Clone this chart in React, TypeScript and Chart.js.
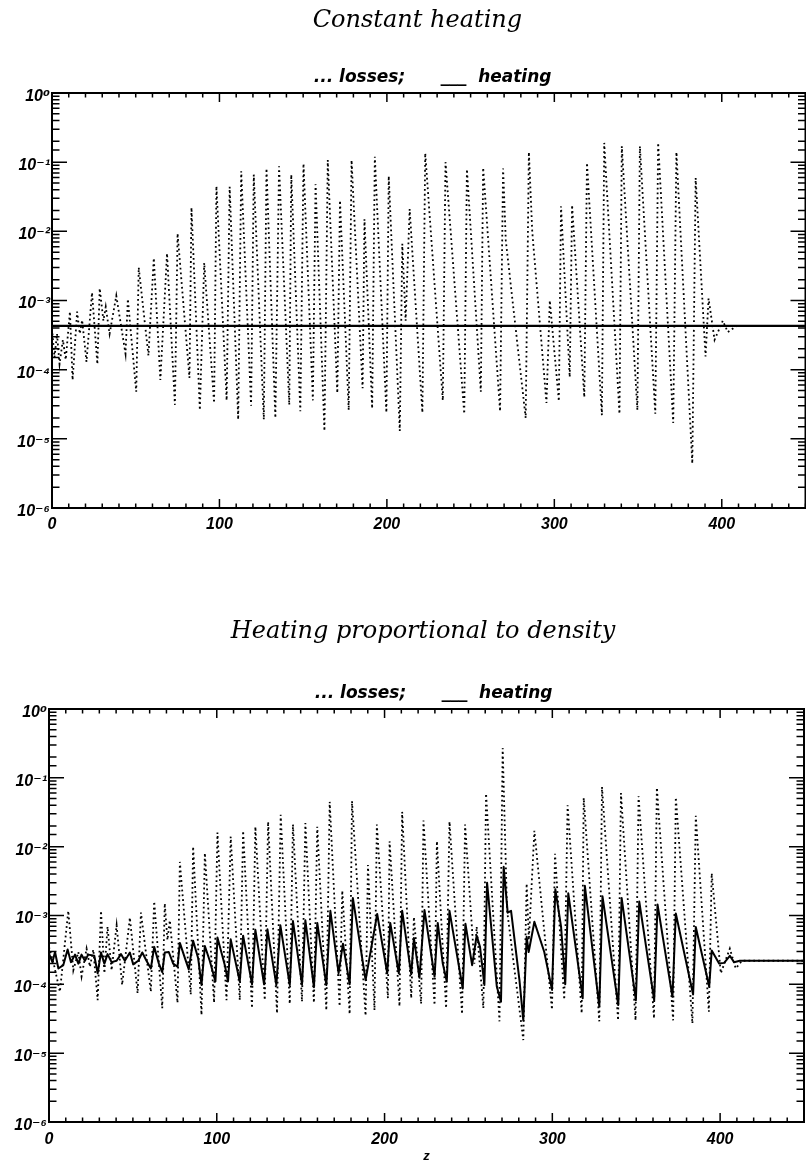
import { useEffect, useRef } from 'react';
import { Chart, registerables } from 'chart.js';

Chart.register(...registerables);

// ---------- data ----------
// Panel 1: constant heating
const topLossesZ = [
  0, 1.5, 3, 4.5, 6.5, 8.2, 10.7, 12.3, 15.0, 16.6, 18.0, 20.6, 23.9, 27.1, 28.5, 30.7, 32.1, 34.4,
  38.4, 43.9, 45.3, 50.3, 51.8, 57.6, 60.8, 64.7, 68.7, 73.4, 75.0, 82.1, 83.3, 88.3, 90.9, 96.8,
  98.2, 104.3, 106.1, 111.2, 113.0, 118.9, 120.5, 126.5, 128.1, 133.4, 135.6, 141.7, 142.9, 148.3,
  150.2, 155.8, 157.4, 162.7, 164.7, 170.4, 172.0, 177.2, 178.9, 185.5, 186.6, 191.2, 192.8, 199.7,
  201.1, 207.7, 209.2, 211.2, 213.6, 221.2, 222.9, 233.4, 235.0, 246.2, 247.8, 256.1, 257.5, 267.6,
  269.4, 271.0, 282.9, 284.8, 286.8, 295.3, 297.3, 302.7, 304.0, 309.2, 310.6, 317.9, 319.5, 328.4,
  329.8, 338.9, 340.3, 349.6, 351.1, 360.3, 362.0, 371.0, 372.9, 382.4, 384.4, 390.3, 392.1, 395.7,
  400.6, 403.6, 409.0, 450,
];
const topLossesV = [
  3.9e-4, 1.5e-4, 3.3e-4, 1.2e-4, 2.7e-4, 1.4e-4, 6.9e-4, 7.1e-5, 6.9e-4, 3.3e-4, 5.2e-4, 1.3e-4,
  1.3e-3, 1.2e-4, 1.5e-3, 5.1e-4, 8.1e-4, 3.3e-4, 1.17e-3, 1.7e-4, 1.05e-3, 4.8e-5, 3.0e-3, 1.6e-4,
  4.1e-3, 7.1e-5, 4.8e-3, 3.1e-5, 9.3e-3, 7.6e-5, 2.2e-2, 2.6e-5, 3.5e-3, 3.3e-5, 4.5e-2, 3.6e-5,
  4.4e-2, 1.9e-5, 7.4e-2, 3.0e-5, 6.6e-2, 1.9e-5, 8.1e-2, 2.0e-5, 8.7e-2, 3.1e-5, 6.6e-2, 2.5e-5,
  9.5e-2, 3.6e-5, 4.8e-2, 1.3e-5, 0.107, 4.6e-5, 2.8e-2, 2.6e-5, 0.107, 5.4e-5, 1.5e-2, 2.75e-5,
  0.12, 2.4e-5, 6.3e-2, 1.3e-5, 6.6e-3, 5.1e-4, 2.1e-2, 2.4e-5, 0.135, 3.6e-5, 0.10, 2.3e-5, 7.9e-2,
  4.8e-5, 8.3e-2, 2.5e-5, 8.1e-2, 7.4e-3, 2.0e-5, 0.14, 1.0e-2, 3.3e-5, 1.0e-3, 3.5e-5, 2.3e-2,
  7.8e-5, 2.4e-2, 4.0e-5, 9.8e-2, 2.2e-5, 0.19, 2.3e-5, 0.17, 2.6e-5, 0.17, 2.3e-5, 0.19, 1.7e-5,
  0.14, 4.4e-6, 5.9e-2, 1.55e-4, 1.07e-3, 2.7e-4, 5.1e-4, 3.5e-4, 4.3e-4, 4.3e-4,
];
const topHeatingZ = [0, 450];
const topHeatingV = [4.3e-4, 4.3e-4];

// Panel 2: heating proportional to density
const botLossesZ = [
  0, 3, 6.5, 11.5, 14.5, 17.5, 19.4, 22.4, 24.4, 26.4, 29.0, 31.0, 33.0, 34.9, 37.3, 40.3, 43.6, 48.2,
  52.8, 54.8, 60.7, 62.7, 67.5, 69.0, 70.6, 72.0, 76.6, 78.0, 84.5, 85.9, 90.9, 92.9, 98.4, 100.4,
  105.8, 108.3, 113.7, 115.7, 121.0, 123.0, 128.6, 130.6, 135.9, 138.1, 143.5, 145.4, 150.8, 152.8,
  157.9, 159.9, 165.3, 167.3, 173.2, 174.8, 179.2, 180.6, 188.7, 190.1, 194.0, 195.4, 202.0, 203.0,
  208.9, 210.5, 215.9, 217.5, 221.8, 223.2, 229.8, 231.2, 236.7, 238.7, 246.2, 248.0, 253.5, 254.9,
  258.9, 260.5, 268.5, 270.4, 273.0, 282.7, 284.7, 286.0, 289.3, 299.8, 301.6, 307.1, 309.1, 317.5,
  318.7, 328.0, 329.6, 339.2, 340.9, 349.6, 351.4, 360.6, 362.3, 372.0, 373.6, 383.5, 385.5, 393.3,
  395.0, 400.4, 405.8, 409.3, 413, 450,
];
const botLossesV = [
  3.5e-4, 1.9e-4, 7.8e-5, 1.17e-3, 1.6e-4, 2.95e-4, 1.3e-4, 3.3e-4, 1.8e-4, 3.2e-4, 5.9e-5, 1.17e-3,
  1.45e-4, 6.9e-4, 1.6e-4, 7.2e-4, 9.8e-5, 9.3e-4, 7.4e-5, 1.1e-3, 7.8e-5, 1.6e-3, 4.5e-5, 1.5e-3,
  4.4e-4, 8.5e-4, 5.4e-5, 6.0e-3, 7.1e-5, 1.0e-2, 3.6e-5, 8.1e-3, 5.4e-5, 1.6e-2, 5.9e-5, 1.4e-2,
  5.9e-5, 1.7e-2, 4.5e-5, 1.95e-2, 5.9e-5, 2.3e-2, 3.8e-5, 2.9e-2, 5.2e-5, 2.1e-2, 5.6e-5, 2.2e-2,
  5.4e-5, 1.95e-2, 4.2e-5, 4.5e-2, 4.8e-5, 2.3e-3, 3.7e-5, 4.6e-2, 3.5e-5, 5.4e-3, 4.2e-5, 2.1e-2,
  6.3e-5, 1.2e-2, 4.8e-5, 3.2e-2, 6.3e-5, 9.5e-4, 5.2e-5, 2.4e-2, 5.0e-5, 1.2e-2, 4.5e-5, 2.3e-2,
  3.7e-5, 2.1e-2, 2.0e-4, 6.9e-4, 4.5e-5, 5.9e-2, 2.9e-5, 0.27, 1.2e-3, 1.55e-5, 2.9e-3, 4.4e-4,
  1.7e-2, 4.3e-5, 7.9e-3, 6.0e-5, 4.0e-2, 3.8e-5, 5.1e-2, 2.9e-5, 7.4e-2, 3.0e-5, 6.0e-2, 3.0e-5,
  5.4e-2, 3.2e-5, 7.2e-2, 3.0e-5, 5.2e-2, 2.7e-5, 2.8e-2, 4.0e-5, 4.1e-3, 1.45e-4, 3.3e-4, 1.7e-4,
  2.2e-4, 2.2e-4,
];
const botHeatingZ = [
  0, 2.0, 3.6, 5.6, 8.5, 11.1, 13.1, 15.5, 17.5, 19.4, 21.4, 23.4, 27.0, 29.0, 31.0, 33.0, 34.9, 37.3,
  40.3, 42.9, 45.2, 48.2, 50.2, 53.2, 55.6, 58.1, 60.7, 62.7, 65.5, 67.5, 69.0, 71.4, 74.0, 76.6,
  78.0, 81.0, 83.3, 85.9, 88.9, 90.9, 92.9, 95.8, 99.2, 100.4, 104.8, 106.7, 108.3, 113.7, 115.7,
  121.0, 123.0, 128.2, 130.2, 135.5, 137.9, 143.5, 145.4, 150.8, 152.8, 157.9, 159.9, 165.3, 167.7,
  172.6, 175.2, 179.2, 181.1, 188.7, 195.6, 201.6, 203.4, 208.5, 210.5, 215.9, 217.5, 220.8, 223.8,
  229.8, 231.7, 234.7, 237.1, 238.7, 246.6, 248.2, 252.2, 254.9, 256.9, 259.5, 261.1, 266.9, 269.4,
  271.0, 273.4, 275.4, 280.4, 282.7, 284.7, 285.9, 289.3, 295.2, 299.8, 301.8, 305.2, 307.7, 309.5,
  318.1, 319.4, 328.0, 329.9, 339.3, 341.3, 349.8, 351.8, 360.7, 362.7, 371.6, 373.6, 383.9, 385.5,
  393.5, 395.0, 399.4, 402.4, 405.8, 408.3, 411.7, 450,
];
const botHeatingV = [
  2.8e-4, 2.1e-4, 2.95e-4, 1.7e-4, 1.9e-4, 3.2e-4, 2.1e-4, 2.7e-4, 2.0e-4, 2.7e-4, 2.2e-4, 2.7e-4,
  2.6e-4, 1.45e-4, 2.9e-4, 2.0e-4, 2.75e-4, 2.1e-4, 2.2e-4, 2.75e-4, 2.2e-4, 2.9e-4, 1.95e-4, 2.2e-4,
  2.9e-4, 2.2e-4, 1.7e-4, 3.5e-4, 2.0e-4, 1.5e-4, 2.9e-4, 2.95e-4, 2.0e-4, 1.8e-4, 4.0e-4, 2.4e-4,
  1.65e-4, 4.3e-4, 2.4e-4, 9.8e-5, 3.6e-4, 2.2e-4, 1.1e-4, 4.8e-4, 1.9e-4, 1.1e-4, 4.5e-4, 1.1e-4,
  5.1e-4, 1.0e-4, 6.2e-4, 1.0e-4, 6.3e-4, 9.8e-5, 7.2e-4, 9.8e-5, 8.3e-4, 1.0e-4, 8.5e-4, 9.1e-5,
  7.8e-4, 9.8e-5, 1.17e-3, 1.45e-4, 3.9e-4, 1.0e-4, 1.8e-3, 1.15e-4, 1.05e-3, 1.45e-4, 7.8e-4,
  1.45e-4, 1.17e-3, 1.4e-4, 4.7e-4, 1.25e-4, 1.2e-3, 1.3e-4, 7.8e-4, 2.0e-4, 1.1e-4, 1.17e-3, 8.7e-5,
  7.6e-4, 1.9e-4, 5.1e-4, 3.5e-4, 9.8e-5, 3.0e-3, 9.3e-5, 5.6e-5, 5.1e-3, 1.1e-3, 1.17e-3, 1.15e-4,
  3.0e-5, 4.9e-4, 2.95e-4, 8.1e-4, 2.95e-4, 8.3e-5, 2.4e-3, 6.9e-4, 1.0e-4, 2.1e-3, 6.3e-5, 2.7e-3,
  4.8e-5, 1.9e-3, 5.0e-5, 1.8e-3, 5.9e-5, 1.6e-3, 5.9e-5, 1.45e-3, 6.6e-5, 1.07e-3, 7.1e-5, 6.8e-4,
  9.3e-5, 3.1e-4, 2.0e-4, 2.05e-4, 2.6e-4, 2.1e-4, 2.2e-4, 2.2e-4,
];

// axis ticks
const xTickValues = [0, 100, 200, 300, 400];
const xTickLabels = ['0', '100', '200', '300', '400'];
const yTickValues = [1, 1e-1, 1e-2, 1e-3, 1e-4, 1e-5, 1e-6];
const yTickLabels = ['10⁰', '10⁻¹', '10⁻²', '10⁻³', '10⁻⁴', '10⁻⁵', '10⁻⁶'];

// text
const topTitle = 'Constant heating';
const botTitle = 'Heating proportional to density';
const legendText = '... losses;      ___  heating';
const xAxisTitle = 'z';

// ---------- helpers ----------
const TITLE_FONT = "'DejaVu Serif', serif";
const LEGEND_FONT = "'DejaVu Sans', sans-serif";
const TICK_FONT = "'Liberation Sans', 'DejaVu Sans', sans-serif";

const toPts = (zs: number[], vs: number[]) => zs.map((z, i) => ({ x: z, y: vs[i] }));
const lead = (s: string, n: number) => ' '.repeat(n) + s;

const isDecade = (v: number) => {
  const l = Math.log10(v);
  return Math.abs(l - Math.round(l)) < 1e-6;
};

const frameTicks = {
  id: 'frameTicks',
  afterDraw(chart: any) {
    const { ctx, chartArea } = chart;
    const { left, right, top, bottom } = chartArea;
    const xs = chart.scales.x;
    const ys = chart.scales.y;
    ctx.save();
    ctx.strokeStyle = '#000';
    ctx.lineWidth = 1.5;
    ctx.beginPath();
    for (const t of ys.ticks) {
      const p = ys.getPixelForValue(t.value);
      const len = isDecade(t.value) ? 15 : 7.5;
      ctx.moveTo(left, p);
      ctx.lineTo(left + len, p);
      ctx.moveTo(right, p);
      ctx.lineTo(right - len, p);
    }
    for (const t of xs.ticks) {
      const p = xs.getPixelForValue(t.value);
      const len = Math.round(t.value) % 100 === 0 ? 9 : 4.5;
      ctx.moveTo(p, bottom);
      ctx.lineTo(p, bottom - len);
      ctx.moveTo(p, top);
      ctx.lineTo(p, top + len);
    }
    ctx.stroke();
    ctx.lineWidth = 2;
    ctx.strokeRect(left, top, right - left, bottom - top);
    ctx.restore();
  },
};

type Opts = {
  title: string;
  subtitle: string;
  lossesZ: number[];
  lossesV: number[];
  heatingZ: number[];
  heatingV: number[];
  padLeft: number;
  padRight: number;
  yWidth: number;
  xHeight: number;
  titlePad: number;
  subPad: [number, number];
  heatW: number;
  xLabelPad: number;
  showXTitle: boolean;
};

function makeConfig(o: Opts): any {
  return {
    type: 'line',
    data: {
      datasets: [
        {
          label: 'losses',
          data: toPts(o.lossesZ, o.lossesV),
          borderColor: '#000',
          borderWidth: 1.8,
          borderDash: [1.8, 3],
          pointRadius: 0,
          tension: 0,
          fill: false,
        },
        {
          label: 'heating',
          data: toPts(o.heatingZ, o.heatingV),
          borderColor: '#000',
          borderWidth: o.heatW,
          borderJoinStyle: 'round',
          pointRadius: 0,
          tension: 0,
          fill: false,
        },
      ],
    },
    options: {
      animation: false,
      responsive: false,
      events: [],
      layout: { padding: { left: o.padLeft, right: o.padRight, top: 0, bottom: 0 } },
      plugins: {
        legend: { display: false },
        tooltip: { enabled: false },
        title: {
          display: true,
          text: o.title,
          color: '#000',
          font: { family: TITLE_FONT, size: 24, style: 'italic', weight: 'normal', lineHeight: 1.15 },
          padding: { top: o.titlePad, bottom: 0 },
        },
        subtitle: {
          display: true,
          text: o.subtitle,
          color: '#000',
          font: { family: LEGEND_FONT, size: 17, style: 'italic', weight: 'bold', lineHeight: 1.2 },
          padding: { top: o.subPad[0], bottom: o.subPad[1] },
        },
      },
      scales: {
        x: {
          type: 'linear',
          min: 0,
          max: 450,
          grid: { display: false, drawTicks: false },
          border: { display: false },
          ticks: {
            stepSize: 10,
            autoSkip: false,
            maxRotation: 0,
            includeBounds: false,
            padding: o.xLabelPad,
            color: '#000',
            font: { family: TICK_FONT, size: 16, style: 'italic', weight: 'bold', lineHeight: 1.2 },
            callback: (v: number) => {
              const i = xTickValues.indexOf(Math.round(v));
              return i >= 0 ? xTickLabels[i] : '';
            },
          },
          title: {
            display: o.showXTitle,
            text: xAxisTitle,
            color: '#000',
            font: { family: TICK_FONT, size: 13, style: 'italic', weight: 'bold', lineHeight: 1 },
            padding: { top: 0, bottom: 0 },
          },
          afterFit: (s: any) => {
            s.height = o.xHeight;
          },
        },
        y: {
          type: 'logarithmic',
          min: 1e-6,
          max: 1,
          grid: { display: false, drawTicks: false },
          border: { display: false },
          ticks: {
            autoSkip: false,
            padding: 2,
            labelOffset: 3.5,
            color: '#000',
            font: { family: TICK_FONT, size: 16, style: 'italic', weight: 'bold', lineHeight: 1.2 },
            callback: (v: number) => {
              const i = yTickValues.findIndex((t) => Math.abs(Math.log10(v / t)) < 1e-6);
              return i >= 0 ? yTickLabels[i] : '';
            },
          },
          afterFit: (s: any) => {
            s.width = o.yWidth;
          },
        },
      },
    },
    plugins: [frameTicks],
  };
}

export default function App() {
  const topRef = useRef<HTMLCanvasElement>(null);
  const botRef = useRef<HTMLCanvasElement>(null);

  useEffect(() => {
    const c1 = new Chart(
      topRef.current as HTMLCanvasElement,
      makeConfig({
        title: lead(topTitle, 3),
        subtitle: lead(legendText, 9),
        lossesZ: topLossesZ,
        lossesV: topLossesV,
        heatingZ: topHeatingZ,
        heatingV: topHeatingV,
        padLeft: 2,
        padRight: 2,
        yWidth: 50,
        xHeight: 32,
        titlePad: 7,
        subPad: [32.8, 5.2],
        heatW: 2.2,
        xLabelPad: 6.5,
        showXTitle: false,
      })
    );
    const c2 = new Chart(
      botRef.current as HTMLCanvasElement,
      makeConfig({
        title: lead(botTitle, 5),
        subtitle: lead(legendText, 10),
        lossesZ: botLossesZ,
        lossesV: botLossesV,
        heatingZ: botHeatingZ,
        heatingV: botHeatingV,
        padLeft: 1,
        padRight: 5,
        yWidth: 48,
        xHeight: 41,
        titlePad: 18,
        subPad: [37.7, 5.3],
        heatW: 2,
        xLabelPad: 8,
        showXTitle: true,
      })
    );
    return () => {
      c1.destroy();
      c2.destroy();
    };
  }, []);

  return (
    <div
      style={{
        position: 'absolute',
        left: 0,
        top: 0,
        width: 806,
        height: 1163,
        overflow: 'hidden',
        background: '#fff',
      }}
    >
      <canvas ref={topRef} width={812} height={540} style={{ position: 'absolute', left: 0, top: 0 }} />
      <canvas ref={botRef} width={812} height={563} style={{ position: 'absolute', left: 0, top: 600 }} />
    </div>
  );
}
